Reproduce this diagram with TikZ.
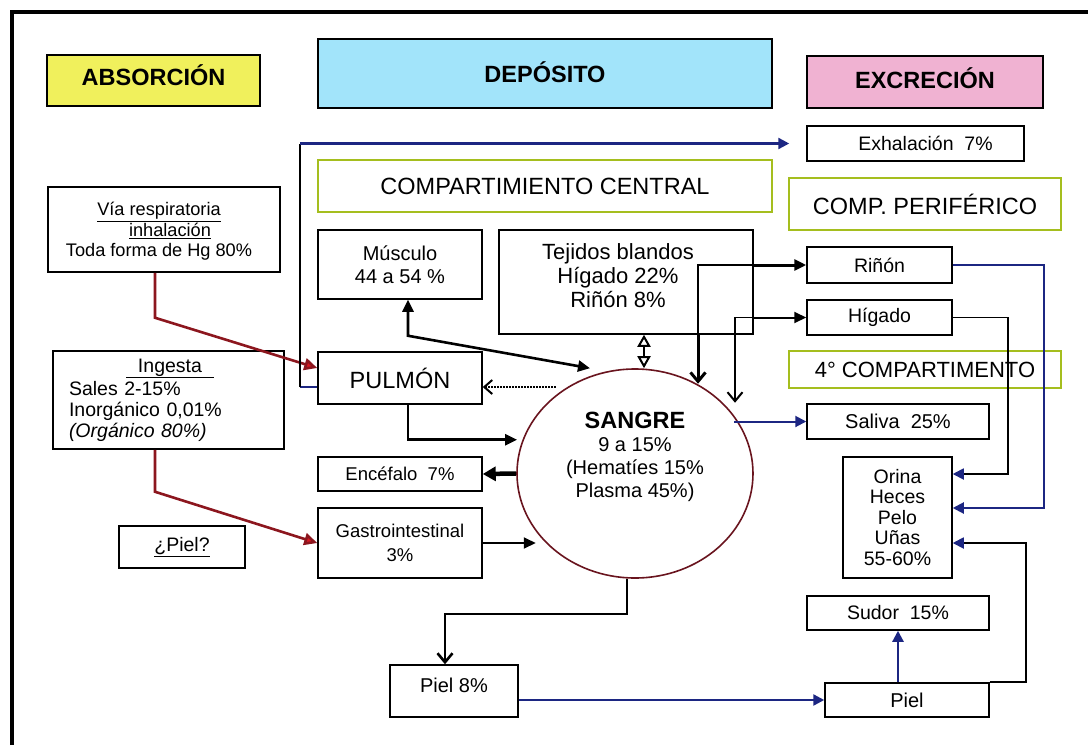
\documentclass[tikz,border=0pt]{standalone}
\usepackage{fontspec}
\setmainfont{Liberation Sans}
\usetikzlibrary{arrows.meta,shapes.geometric}
\definecolor{hdyellow}{RGB}{240,240,92}
\definecolor{hdblue}{RGB}{162,228,250}
\definecolor{hdpink}{RGB}{240,178,210}
\definecolor{compgreen}{RGB}{165,190,30}
\definecolor{navyln}{RGB}{28,38,130}
\definecolor{darkredln}{RGB}{140,22,30}
\definecolor{tipred}{RGB}{215,25,35}
\definecolor{rimred}{RGB}{105,20,30}
\begin{document}
\begin{tikzpicture}[x=1pt,y=-1pt,
  box/.style={draw,line width=1.5pt,inner sep=0pt,align=center,fill=white},
  hdr/.style={draw,line width=1.6pt,inner sep=0pt,font=\fontsize{23.5}{26}\selectfont\bfseries},
  comp/.style={draw=compgreen,line width=2.2pt,inner sep=0pt,fill=white,font=\fontsize{23.5}{26}\selectfont},
  fA/.style={font=\fontsize{20}{23}\selectfont},
  fB/.style={font=\fontsize{19.5}{20.5}\selectfont},
  fC/.style={font=\fontsize{18.5}{24.5}\selectfont},
  fD/.style={font=\fontsize{22}{24}\selectfont},
  fE/.style={font=\fontsize{18.2}{20.5}\selectfont},
  fG/.style={font=\fontsize{19.5}{21}\selectfont},
  conn/.style={line width=1.8pt},
  thk/.style={line width=2.6pt},
  navyl/.style={draw=navyln,line width=2pt},
  redl/.style={draw=darkredln,line width=2.6pt,-{Triangle[length=13pt,width=12pt,color=darkredln,fill=tipred]}},
  tipf/.style={-{Triangle[length=12pt,width=11pt]}},
  tipn/.style={-{Triangle[length=11pt,width=11pt,color=navyln]}},
  barb/.style={-{Straight Barb[length=9pt,width=15pt]}}
]
\useasboundingbox (0,0) rectangle (1088,745);
\fill[white] (0,0) rectangle (1088,745);
% frame
\draw[line width=3.5pt] (12,745) -- (12,12) -- (1088,12);

% headers
\node[hdr,fill=hdyellow,minimum width=213pt,minimum height=51pt] (absor) at (153.5,80.5) {\raisebox{10pt}{ABSORCIÓN}};
\node[hdr,fill=hdblue,minimum width=454pt,minimum height=69pt] (depos) at (545,73.5) {\raisebox{2pt}{DEPÓSITO}};
\node[hdr,fill=hdpink,minimum width=236pt,minimum height=52pt] (excre) at (925,82) {\raisebox{8pt}{EXCRECIÓN}};

% compartments
\node[comp,minimum width=454pt,minimum height=52pt] (central) at (545,186) {COMPARTIMIENTO CENTRAL};
\node[comp,minimum width=272pt,minimum height=52pt] (perif) at (925,204) {COMP. PERIFÉRICO};
\node[comp,font=\fontsize{22}{24}\selectfont,minimum width=272pt,minimum height=37pt] (cuarto) at (925,369.5) {4° COMPARTIMENTO};

% absorption boxes
\node[box,fE,minimum width=232pt,minimum height=85pt,
  label={[fE,align=center,xshift=-5pt,yshift=-2pt]center:{\underline{Vía respiratoria}\\\hspace*{22pt}\underline{inhalación}\\Toda forma de Hg 80\%}}]
  (via) at (164,229.5) {};
\node[box,fG,align=left,text width=199pt,minimum width=231pt,minimum height=98pt] (ingesta) at (168.5,400)
  {\hspace*{57pt}\underline{\hspace{12pt}Ingesta\hspace{12pt}}\\[2pt]Sales 2-15\%\\Inorgánico 0,01\%\\\textit{(Orgánico 80\%)}};
\node[box,fB,minimum width=126pt,minimum height=42pt] (pielq) at (182,547) {\underline{¿Piel?}};

% deposit boxes
\node[box,fA,minimum width=164pt,minimum height=69pt] (musc) at (400,264.5) {Músculo\\44 a 54 \%};
\node[box,minimum width=254pt,minimum height=104pt,
  label={[fD,align=center,xshift=-8pt,yshift=6pt]center:{Tejidos blandos\\Hígado 22\%\\Riñón 8\%}}]
  (tejidos) at (626,282) {};
\node[box,font=\fontsize{23.5}{26}\selectfont,minimum width=164pt,minimum height=52pt] (pulmon) at (400,378) {PULMÓN};
\node[box,fC,minimum width=164pt,minimum height=34pt] (encef) at (400,474) {Encéfalo\ \ 7\%};
\node[box,fC,minimum width=164pt,minimum height=70pt] (gastro) at (400,543) {Gastrointestinal\\3\%};
\node[box,fA,minimum width=128pt,minimum height=52pt] (piel8) at (454,691) {\raisebox{11pt}{Piel 8\%}};
\node[draw=rimred,line width=1.6pt,ellipse,inner sep=0pt,minimum width=236pt,minimum height=209pt,
  label={[fA,align=center,yshift=17pt]center:{{\fontsize{23.5}{26}\selectfont\bfseries SANGRE}\\9 a 15\%\\(Hematíes 15\%\\Plasma 45\%)}}]
  (sangre) at (635,473.5) {};

% excretion boxes
\node[box,fB,minimum width=217pt,minimum height=35pt] (exhal) at (915.5,143.5) {\hspace*{20pt}Exhalación\ \ 7\%};
\node[box,fB,minimum width=145pt,minimum height=36pt] (rinon) at (879.5,265) {Riñón};
\node[box,fB,minimum width=145pt,minimum height=35pt] (higado) at (879.5,317.5) {Hígado};
\node[box,fA,minimum width=182pt,minimum height=35pt] (saliva) at (898,421.5) {Saliva\ \ 25\%};
\node[box,fB,minimum width=109pt,minimum height=121pt] (orina) at (897.5,517.5) {Orina\\Heces\\Pelo\\Uñas\\55-60\%};
\node[box,fB,minimum width=182pt,minimum height=34pt] (sudor) at (898,613) {Sudor\ \ 15\%};
\node[box,fA,minimum width=164pt,minimum height=34pt] (pielR) at (907,700) {Piel};

% absorption arrows
\draw[redl] ([xshift=-9pt]via.south) -- ++(0,45) -- ([yshift=10pt]pulmon.west);
\draw[redl] ([xshift=-13.5pt]ingesta.south) -- ++(0,42) -- (gastro.west);

% exhalation
\coordinate (exa) at ([yshift=-9pt]pulmon.west);
\draw[navyl] (exa) -- ++(-17,0) coordinate (exb);
\draw[conn] (exb) -- (exb |- exhal.west) coordinate (exc);
\draw[navyl,line width=2.4pt,tipn] (exc) -- ([xshift=-17pt]exhal.west);

% central compartment connectors
\draw[thk,{Triangle[length=12pt,width=11pt]}-{Triangle[length=12pt,width=11pt]}] ([xshift=8pt]musc.south) -- ++(0,36) -- ([xshift=-45pt]sangre.north);
\draw[line width=2pt,{Triangle[open,length=12pt,width=13pt]}-{Triangle[open,length=12pt,width=13pt]}] ([xshift=18pt]tejidos.south) -- ([xshift=9pt]sangre.north);
\draw[line width=2pt,densely dotted,-{Straight Barb[length=8pt,width=14pt]}] ([shift={(73pt,-9pt)}]pulmon.east) -- ([yshift=-9pt]pulmon.east);
\draw[thk,tipf] ([xshift=8pt]pulmon.south) -- ++(0,35) -- ++(109,0);
\draw[line width=4.5pt,-{Triangle[length=13pt,width=14pt]}] (sangre.west) -- (encef.east);
\draw[conn,line width=2pt,tipf] (gastro.east) -- ++(53,0);
\draw[thk,barb] ([xshift=-8pt]sangre.south) -- ++(0,35) -| ([xshift=-9pt]piel8.north);

% tejidos/sangre to rinon and higado
\coordinate (rj) at ([xshift=72pt]tejidos.south);
\draw[line width=1.4pt] (rj) |- (tejidos.east |- rinon.west);
\draw[line width=3pt,tipf] (tejidos.east |- rinon.west) -- (rinon.west);
\draw[line width=3pt,barb] (rj) -- ++(0,49);
\coordinate (hj) at ([xshift=109pt]tejidos.south);
\draw[line width=1.4pt] (hj) |- (tejidos.east |- higado.west);
\draw[line width=2pt,tipf] (tejidos.east |- higado.west) -- (higado.west);
\draw[line width=2pt,barb] (hj) -- ++(0,68);

% excretion connectors
\draw[navyl,tipn] ([xshift=-72pt]saliva.west) -- (saliva.west);
\draw[navyl,tipn] (rinon.east) -- ++(91,0) |- ([yshift=9.5pt]orina.east);
\draw[conn,tipn] (higado.east) -- ++(55,0) |- ([yshift=43.5pt]orina.east);
\draw[conn,tipn] (pielR.north east) -- ++(36,0) |- ([yshift=-25.5pt]orina.east);
\draw[navyl,line width=2.4pt,tipn] (piel8.east |- pielR.west) -- (pielR.west);
\draw[navyl,line width=2.2pt,tipn] (pielR.north -| sudor.south) -- (sudor.south);
\end{tikzpicture}
\end{document}
